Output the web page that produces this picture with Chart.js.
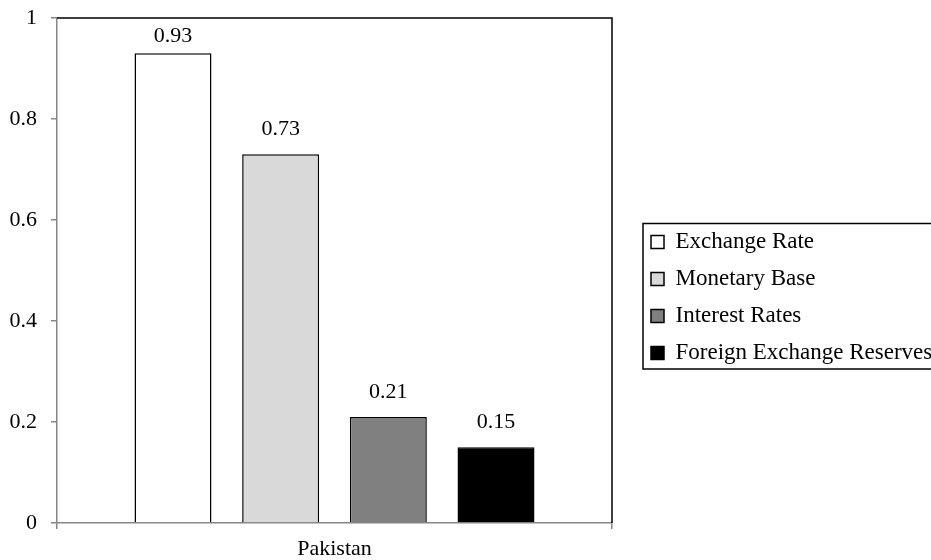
<!DOCTYPE html>
<html>
<head>
<meta charset="utf-8">
<script src="https://cdn.jsdelivr.net/npm/chart.js@4.4.1/dist/chart.umd.min.js"></script>
<style>
  html, body { margin: 0; padding: 0; background: #ffffff; }
  #wrap { width: 931px; height: 560px; }
</style>
</head>
<body>
<div id="wrap"><canvas id="chart" width="931" height="560"></canvas></div>
<script>
// Categories, series and tick values
const categories = ['Pakistan'];
const seriesNames = ['Exchange Rate', 'Monetary Base', 'Interest Rates', 'Foreign Exchange Reserves'];
const seriesValues = [0.93, 0.73, 0.21, 0.15];
const seriesColors = ['#ffffff', '#d9d9d9', '#808080', '#000000'];
const yTickValues = [0, 0.2, 0.4, 0.6, 0.8, 1];

const FONT_FAMILY = "'Liberation Serif', 'Times New Roman', serif";
const FONT_SIZE = 22;
const LEGEND_FONT_SIZE = 23;
const AXIS_GREY = '#868686';

Chart.defaults.font.family = FONT_FAMILY;
Chart.defaults.font.size = FONT_SIZE;
Chart.defaults.color = '#000000';

// Black top and right edges of the plot area
const plotFrame = {
  id: 'plotFrame',
  beforeDatasetsDraw(chart) {
    const { ctx, chartArea: a } = chart;
    ctx.save();
    ctx.strokeStyle = '#000000';
    ctx.lineWidth = 1.5;
    ctx.beginPath();
    ctx.moveTo(a.left, a.top);
    ctx.lineTo(a.right, a.top);
    ctx.lineTo(a.right, a.bottom);
    ctx.stroke();
    ctx.restore();
  }
};

// Value printed above each bar
const valueLabels = {
  id: 'valueLabels',
  afterDatasetsDraw(chart) {
    const { ctx, chartArea: a } = chart;
    ctx.save();
    ctx.font = FONT_SIZE + 'px ' + FONT_FAMILY;
    ctx.fillStyle = '#000000';
    ctx.textAlign = 'center';
    ctx.textBaseline = 'middle';
    chart.data.datasets.forEach((ds, i) => {
      chart.getDatasetMeta(i).data.forEach((bar, j) => {
        const y = Math.max(bar.y - 25, a.top + 18);
        ctx.fillText(ds.data[j].toFixed(2), bar.x, y);
      });
    });
    ctx.restore();
  }
};

// Moves the legend a little away from the plot, lets its text run to the
// canvas edge, and draws its frame
const legendBox = {
  id: 'legendBox',
  afterLayout(chart) {
    const L = chart.legend;
    const dx = 25, dy = 8.5;
    L.left += dx;
    L.right = chart.width;
    L.width = L.right - L.left;
    L.top += dy; L.bottom += dy;
  },
  afterDraw(chart) {
    const L = chart.legend;
    const boxes = L.legendHitBoxes;
    if (!boxes || !boxes.length) return;
    const first = boxes[0], last = boxes[boxes.length - 1];
    const { ctx } = chart;
    ctx.save();
    ctx.strokeStyle = '#000000';
    ctx.lineWidth = 1.5;
    const x0 = first.left - 8;
    const y0 = first.top - 7;
    const y1 = last.top + last.height + 4.5;
    ctx.strokeRect(x0, y0, chart.width + 20 - x0, y1 - y0);
    ctx.restore();
  }
};

const datasets = seriesNames.map((name, i) => ({
  label: name,
  data: [seriesValues[i]],
  backgroundColor: seriesColors[i],
  borderColor: '#000000',
  borderWidth: 1.5,
  categoryPercentage: 0.776,
  barPercentage: 0.715
}));

new Chart(document.getElementById('chart'), {
  type: 'bar',
  data: { labels: categories, datasets },
  options: {
    responsive: false,
    animation: false,
    devicePixelRatio: 1,
    layout: { padding: { left: 0, top: 18, right: 49, bottom: 0 } },
    plugins: {
      tooltip: { enabled: false },
      legend: {
        position: 'right',
        align: 'center',
        maxWidth: 270,
        labels: {
          boxWidth: 13,
          boxHeight: 13,
          padding: 14,
          color: '#000000',
          font: { family: FONT_FAMILY, size: LEGEND_FONT_SIZE }
        }
      }
    },
    scales: {
      x: {
        offset: true,
        grid: {
          offset: true,
          drawOnChartArea: false,
          drawTicks: true,
          tickLength: 6,
          color: AXIS_GREY,
          lineWidth: 1.5
        },
        border: { display: true, color: AXIS_GREY, width: 1.5 },
        ticks: { padding: 7, color: '#000000', font: { size: FONT_SIZE } },
        afterFit(scale) { scale.height = 37; }
      },
      y: {
        min: 0,
        max: 1,
        afterBuildTicks(scale) {
          scale.ticks = yTickValues.map(v => ({ value: v }));
        },
        ticks: {
          padding: 14,
          color: '#000000',
          font: { size: FONT_SIZE },
          callback: v => String(v)
        },
        grid: {
          drawOnChartArea: false,
          drawTicks: true,
          tickLength: 6,
          color: AXIS_GREY,
          lineWidth: 1.5
        },
        border: { display: true, color: AXIS_GREY, width: 1.5 },
        afterFit(scale) {
          scale.width = 57;
          scale.paddingTop = 0;
        }
      }
    }
  },
  plugins: [plotFrame, valueLabels, legendBox]
});
</script>
</body>
</html>
